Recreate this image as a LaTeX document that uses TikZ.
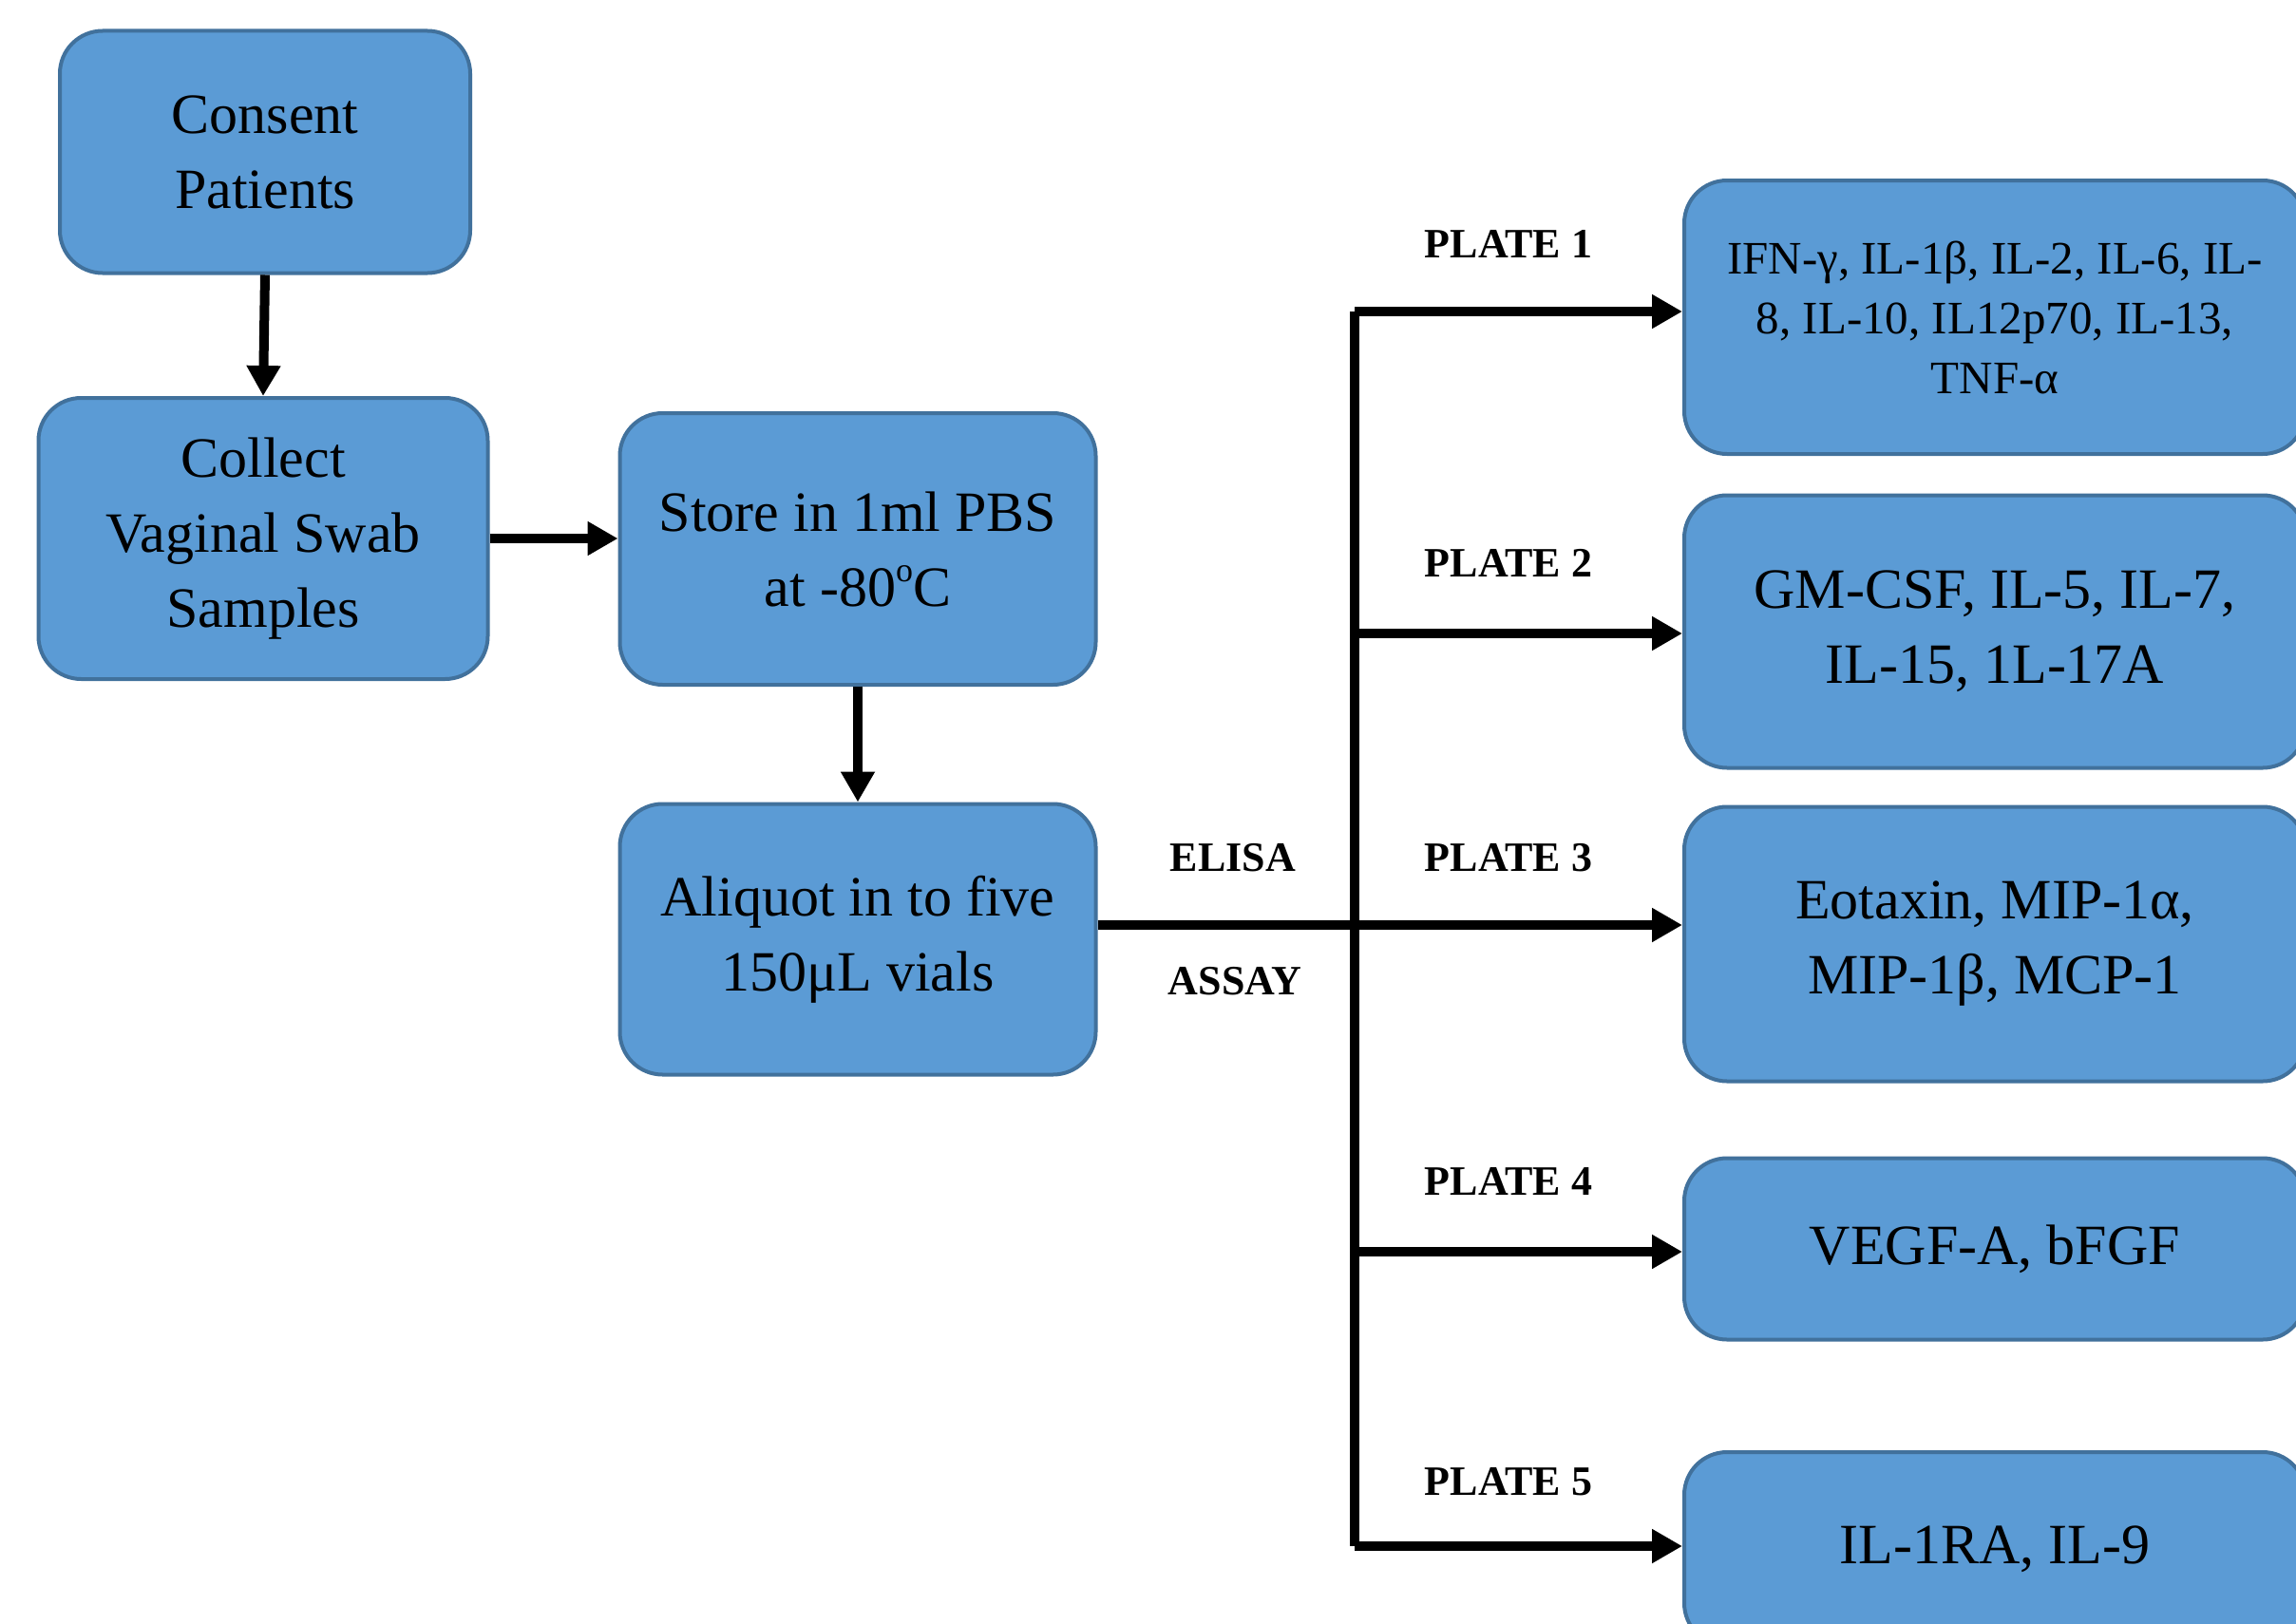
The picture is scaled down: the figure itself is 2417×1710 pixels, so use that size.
\documentclass[tikz,border=0pt]{standalone}
\usepackage{fontspec}
\setmainfont{Liberation Serif}
\usetikzlibrary{arrows.meta}
\definecolor{boxfill}{HTML}{5B9BD5}
\definecolor{boxline}{HTML}{41719C}
\begin{document}
\begin{tikzpicture}[x=1pt,y=-1pt,
  box/.style={draw=boxline, line width=4pt, fill=boxfill, rounded corners=45pt,
    align=center, inner sep=0pt, font=\fontsize{60}{79}\selectfont},
  smallbox/.style={box, font=\fontsize{49}{63}\selectfont},
  conn/.style={line width=10pt, -{Triangle[length=32pt,width=34pt]}},
  trunk/.style={line width=10pt},
  lbl/.style={font=\fontsize{44}{50}\selectfont\bfseries}]
\useasboundingbox (0,0) rectangle (2417,1710);
\clip (0,0) rectangle (2417,1710);
\fill[white] (0,0) rectangle (2417,1710);

% left column
\node[box, minimum width=432pt, minimum height=255pt] (consent) at (279,160) {Consent\\Patients};
\node[box, minimum width=473pt, minimum height=296pt] (collect) at (277,567) {Collect\\Vaginal Swab\\Samples};
\node[box, minimum width=501pt, minimum height=286pt] (store) at (903,578) {Store in 1ml PBS\\at -80\raisebox{0.42em}{\fontsize{36}{36}\selectfont o}C};
\node[box, minimum width=501pt, minimum height=285pt] (aliquot) at (903,989) {Aliquot in to five\\150μL vials};

% right column
\node[smallbox, minimum width=654pt, minimum height=288pt] (p1) at (2100,334) {IFN-γ, IL-1β, IL-2, IL-6, IL-\\8, IL-10, IL12p70, IL-13,\\TNF-α};
\node[box, minimum width=654pt, minimum height=287pt] (p2) at (2100,665) {GM-CSF, IL-5, IL-7,\\IL-15, 1L-17A};
\node[box, minimum width=654pt, minimum height=289pt] (p3) at (2100,994) {Eotaxin, MIP-1α,\\MIP-1β, MCP-1};
\node[box, minimum width=654pt, minimum height=191pt] (p4) at (2100,1315) {VEGF-A, bFGF};
\node[box, minimum width=654pt, minimum height=204pt] (p5) at (2100,1631) {IL-1RA, IL-9};

% trunk coordinates
\coordinate (b1) at (1426,328);
\coordinate (b2) at (1426,667);
\coordinate (b3) at (1426,974);
\coordinate (b4) at (1426,1318);
\coordinate (b5) at (1426,1628);

% connectors
\draw[conn] (consent.south) -- (collect.north);
\draw[conn] (collect.east) -- (collect.east -| store.west);
\draw[conn] (store.south) -- (aliquot.north);
\draw[trunk] (b1) -- (b5);
\draw[conn] (aliquot.east |- b3) -- (b3 -| p3.west);
\draw[conn] (b1) -- (b1 -| p1.west);
\draw[conn] (b2) -- (b2 -| p2.west);
\draw[conn] (b4) -- (b4 -| p4.west);
\draw[conn] (b5) -- (b5 -| p5.west);

% labels
\node[lbl] (l1) at (1588,257) {PLATE 1};
\node[lbl] (l2) at (1588,593) {PLATE 2};
\node[lbl] (l3) at (1588,903) {PLATE 3};
\node[lbl] (l4) at (1588,1244) {PLATE 4};
\node[lbl] (l5) at (1588,1560) {PLATE 5};
\node[lbl] (elisa) at (1298,903) {ELISA};
\node[lbl] (assay) at (1300,1033) {ASSAY};
\end{tikzpicture}
\end{document}
